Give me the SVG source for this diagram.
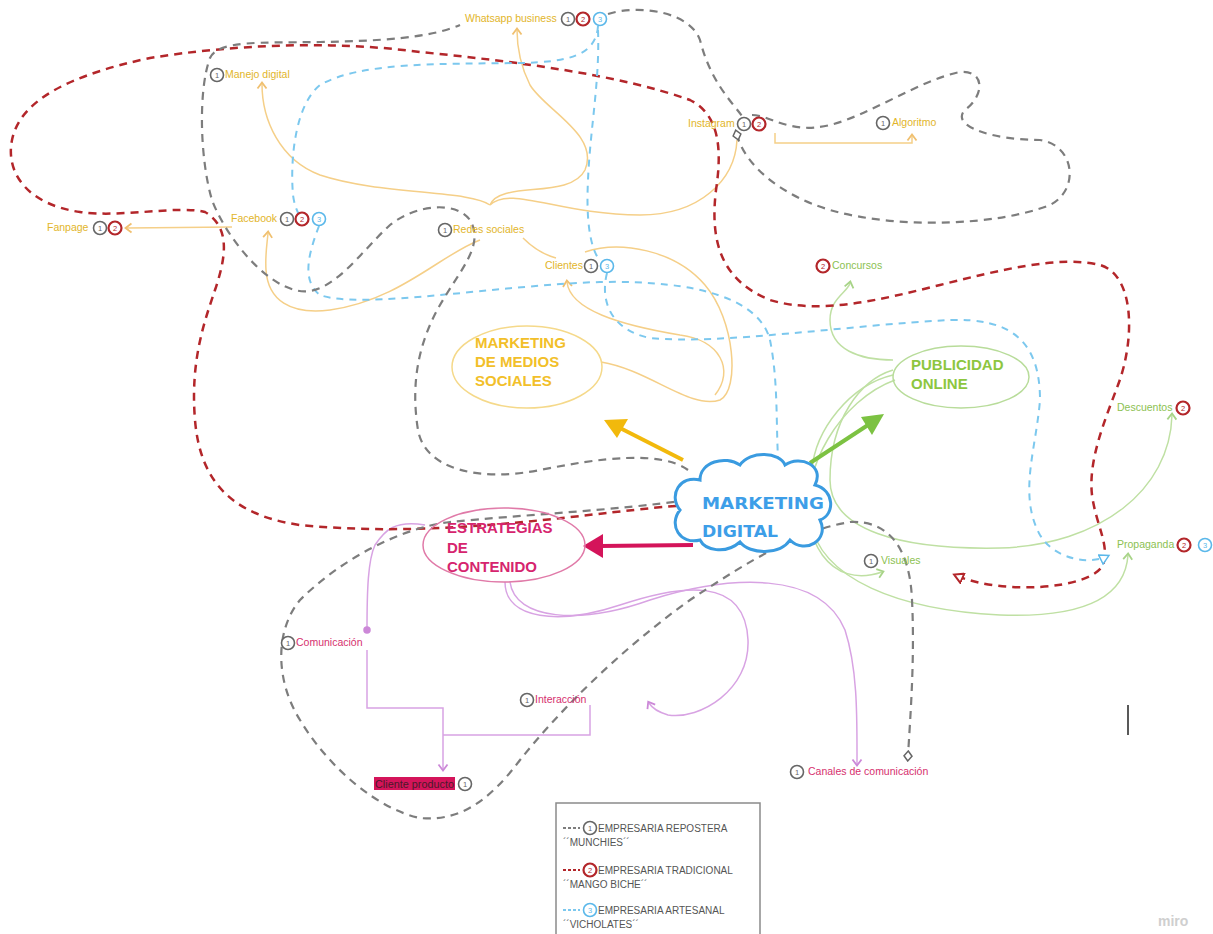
<svg xmlns="http://www.w3.org/2000/svg" width="1213" height="934" viewBox="0 0 1213 934">
<style>
.lbl{font-family:"Liberation Sans",Arial,sans-serif;font-size:10.5px}
.yt{fill:#e2b52a}.gt{fill:#8cc152}.mt{fill:#d6306e}
.y{fill:none;stroke:#f5cf88;stroke-width:1.5}
.g{fill:none;stroke:#bfe0a3;stroke-width:1.5}
.m{fill:none;stroke:#d8a3e3;stroke-width:1.5}
.dk{fill:none;stroke:#7d7d7d;stroke-width:2.2;stroke-dasharray:8 6}
.dr{fill:none;stroke:#b3262a;stroke-width:2.5;stroke-dasharray:8 6}
.db{fill:none;stroke:#7cc8ee;stroke-width:2;stroke-dasharray:7 6}
.b1{fill:#fff;stroke:#666;stroke-width:1.6}
.b2{fill:#fff;stroke:#b3262a;stroke-width:2.2}
.b3{fill:#fff;stroke:#5bb8ea;stroke-width:1.6}
.bn{font-family:"Liberation Sans",Arial,sans-serif;font-size:7.5px;text-anchor:middle}
.big{font-family:"Liberation Sans",Arial,sans-serif;font-weight:bold;font-size:15px}
.leg{font-family:"Liberation Sans",Arial,sans-serif;font-size:10px;fill:#555}
</style>
<defs>
<marker id="ay" markerWidth="8" markerHeight="8" refX="4" refY="4" orient="auto"><path d="M1,1 L5,4 L1,7" fill="none" stroke="#f0c070" stroke-width="1.2"/></marker>
<marker id="ag" markerWidth="8" markerHeight="8" refX="4" refY="4" orient="auto"><path d="M1,1 L5,4 L1,7" fill="none" stroke="#a8d488" stroke-width="1.2"/></marker>
<marker id="am" markerWidth="8" markerHeight="8" refX="4" refY="4" orient="auto"><path d="M1,1 L5,4 L1,7" fill="none" stroke="#cc88d8" stroke-width="1.2"/></marker>
<marker id="dm" markerWidth="8" markerHeight="8" refX="4" refY="4" orient="auto"><circle cx="4" cy="4" r="2.5" fill="#cc88d8"/></marker>
<marker id="ar" markerWidth="12" markerHeight="12" refX="9" refY="6" orient="auto" markerUnits="userSpaceOnUse"><path d="M1,1 L10,6 L1,11 Z" fill="#fff" stroke="#b3262a" stroke-width="2"/></marker>
<marker id="ab" markerWidth="12" markerHeight="12" refX="9" refY="6" orient="auto" markerUnits="userSpaceOnUse"><path d="M1,1 L10,6 L1,11 Z" fill="#fff" stroke="#5bb8ea" stroke-width="1.5"/></marker>
<marker id="dk" markerWidth="12" markerHeight="12" refX="6" refY="6" orient="auto" markerUnits="userSpaceOnUse"><path d="M1,6 L6,2 L11,6 L6,10 Z" fill="#fff" stroke="#666" stroke-width="1.5"/></marker>
</defs>
<rect width="1213" height="934" fill="#fff"/>

<g id="connectors">
<!-- yellow -->
<path class="y" d="M490,205 C500,180 570,200 585,170 C600,135 545,110 530,85 C520,65 517,45 517,30" marker-end="url(#ay)"/>
<path class="y" d="M490,205 C470,190 380,195 320,175 C280,160 262,120 262,84" marker-end="url(#ay)"/>
<path class="y" d="M490,205 C510,185 560,215 640,215 C700,215 735,180 737,140"/>
<path class="y" d="M480,240 C440,255 400,300 330,310 C290,315 268,300 266,270 C265,255 267,245 268,233" marker-end="url(#ay)"/>
<path class="y" d="M232,227 L127,228" marker-end="url(#ay)"/>
<path class="y" d="M775,133 L775,143 L912,143 L912,136" marker-end="url(#ay)"/>
<path class="y" d="M523,238 C535,250 545,255 556,258"/>
<path class="y" d="M715,395 C735,370 720,340 680,335 C620,325 570,310 567,282" marker-end="url(#ay)"/>
<path class="y" d="M601,362 C650,370 690,410 720,400 C740,390 735,320 705,285 C675,250 620,240 585,252"/>
<!-- green -->
<path class="g" d="M893,360 C860,360 830,350 830,320 C830,298 848,292 850,283" marker-end="url(#ag)"/>
<path class="g" d="M893,370 C860,380 830,420 830,480 C830,530 900,550 1000,548 C1100,545 1170,490 1172,415" marker-end="url(#ag)"/>
<path class="g" d="M895,380 C840,400 800,470 810,520 C820,580 900,610 1000,615 C1080,618 1125,600 1128,555" marker-end="url(#ag)"/>
<path class="g" d="M808,480 C800,540 830,590 882,572" marker-end="url(#ag)"/>
<path class="g" d="M893,375 C850,385 815,430 812,470"/>
<!-- magenta -->
<path class="m" d="M505,582 C505,620 560,625 620,605 C680,585 745,575 748,640 C750,690 700,720 668,715 C658,712 652,708 649,703" marker-end="url(#am)"/>
<path class="m" d="M510,582 C515,620 580,625 650,600 C730,575 820,570 845,630 C858,670 857,720 857,764" marker-end="url(#am)"/>
<path class="m" d="M425,525 C395,520 385,530 375,545 C368,560 367,590 367,630" marker-end="url(#dm)"/>
<path class="m" d="M367,650 L367,708 L443,708 L443,769" marker-end="url(#am)"/>
<path class="m" d="M590,705 L590,735 L443,735"/>
<!-- red dashed -->
<path class="dr" d="M690,505 C600,510 450,540 300,525 C230,515 200,480 195,420 C190,360 205,320 215,290 C225,260 232,228 205,212 C180,205 120,218 80,212 C30,205 5,175 12,140 C20,100 70,75 150,58 C230,45 330,40 420,52 C520,62 620,75 690,100 C720,115 722,150 716,190 C710,240 720,280 770,300 C820,315 880,300 940,285 C1000,270 1060,255 1100,265 C1135,275 1135,340 1118,385 C1105,420 1088,460 1092,495 C1096,525 1110,545 1103,565 C1090,590 1000,595 955,575" marker-end="url(#ar)"/>
<!-- blue dashed -->
<path class="db" d="M598,26 C596,55 570,62 520,63 C440,64 360,62 320,85 C295,105 290,160 293,195 C295,210 300,218 306,222"/>
<path class="db" d="M598,30 C600,80 590,130 588,180 C586,220 590,245 598,258"/>
<path class="db" d="M319,226 C310,250 300,280 320,295 C360,310 500,285 600,282 C700,280 760,300 770,340 C778,380 776,420 778,458"/>
<path class="db" d="M607,273 C600,300 610,330 650,338 C720,345 850,325 950,320 C1010,318 1040,340 1040,400 C1036,450 1018,495 1040,535 C1055,560 1090,565 1108,556" marker-end="url(#ab)"/>
<!-- grey dashed -->
<path class="dk" d="M688,470 C660,450 600,458 540,470 C480,482 425,470 418,430 C410,380 420,340 440,305 C460,270 485,245 470,220 C455,200 415,205 390,225 C360,252 330,300 295,290 C262,282 225,235 212,200 C200,160 198,90 210,58 C218,40 260,43 320,42 C380,41 430,38 460,25"/>
<path class="dk" d="M608,14 C640,4 690,12 700,40 C710,80 730,100 742,116"/>
<path class="dk" d="M752,115 C770,115 790,135 830,125 C870,115 920,80 960,72 C985,70 985,95 965,110 C950,125 990,140 1040,140 C1075,145 1080,190 1050,205 C1000,225 900,230 830,210 C780,195 745,165 737,135" marker-end="url(#dk)"/>
<path class="dk" d="M688,500 C620,510 520,515 450,522 C400,528 340,560 300,600 C275,630 275,680 300,720 C330,770 380,810 420,818 C460,822 490,800 520,760 C560,710 620,650 690,600 C750,560 800,530 850,522 C890,520 910,550 912,600 C915,660 910,720 908,756" marker-end="url(#dk)"/>
<!-- thick arrows -->
<line x1="683" y1="460" x2="620" y2="428" stroke="#f2b90c" stroke-width="4"/>
<polygon points="604,420 628,419 617,438" fill="#f2b90c"/>
<line x1="810" y1="463" x2="868" y2="425" stroke="#7cc242" stroke-width="4"/>
<polygon points="884,414 861,417 872,435" fill="#7cc242"/>
<line x1="693" y1="545" x2="600" y2="546" stroke="#d4145a" stroke-width="4"/>
<polygon points="583,546 603,534 603,558" fill="#d4145a"/>
</g>

<g id="n-mdms">
<ellipse cx="527" cy="367" rx="75" ry="41" fill="none" stroke="#f5d98a" stroke-width="1.5"/>
<text class="big" fill="#f2bf2a" x="475" y="348">MARKETING</text>
<text class="big" fill="#f2bf2a" x="475" y="367">DE MEDIOS</text>
<text class="big" fill="#f2bf2a" x="475" y="386">SOCIALES</text>
</g>
<g id="n-pub">
<ellipse cx="961" cy="377" rx="68" ry="31" fill="none" stroke="#b8dc9a" stroke-width="1.5"/>
<text class="big" fill="#8dc63f" x="911" y="370" font-size="14">PUBLICIDAD</text>
<text class="big" fill="#8dc63f" x="911" y="389" font-size="14">ONLINE</text>
</g>
<g id="n-est">
<ellipse cx="504" cy="545" rx="81" ry="37" fill="none" stroke="#e07aa8" stroke-width="1.5"/>
<text class="big" fill="#d6246e" x="447" y="533">ESTRATEGIAS</text>
<text class="big" fill="#d6246e" x="447" y="553">DE</text>
<text class="big" fill="#d6246e" x="447" y="572">CONTENIDO</text>
</g>
<g id="n-md">
<path d="M700,540 C680,545 668,525 680,510 C668,495 680,475 700,480 C700,462 725,455 740,465 C750,450 780,452 785,465 C800,455 825,465 815,485 C835,490 835,515 820,520 C830,540 805,555 790,540 C780,555 750,555 740,542 C725,555 705,550 700,540 Z" fill="#fff" stroke="#3a9be0" stroke-width="3"/>
<text x="702" y="509" font-family="DejaVu Sans,sans-serif" font-weight="bold" font-size="15" fill="#3d9ee8" textLength="122" lengthAdjust="spacingAndGlyphs">MARKETING</text>
<text x="702" y="537" font-family="DejaVu Sans,sans-serif" font-weight="bold" font-size="15" fill="#3d9ee8" textLength="76" lengthAdjust="spacingAndGlyphs">DIGITAL</text>
</g>

<g id="n-whatsapp">
<text class="lbl yt" x="465" y="22">Whatsapp business</text>
<circle class="b1" cx="568" cy="19" r="6.5"/><text class="bn" x="568" y="21.5" fill="#666">1</text>
<circle class="b2" cx="583" cy="19" r="6.5"/><text class="bn" x="583" y="21.5" fill="#b3262a">2</text>
<circle class="b3" cx="600" cy="19" r="6.5"/><text class="bn" x="600" y="21.5" fill="#5bb8ea">3</text>
</g>
<g id="n-manejo">
<circle class="b1" cx="217" cy="75" r="6.5"/><text class="bn" x="217" y="77.5" fill="#666">1</text>
<text class="lbl yt" x="225" y="78">Manejo digital</text>
</g>
<g id="n-instagram">
<text class="lbl yt" x="688" y="127">Instagram</text>
<circle class="b1" cx="744" cy="124" r="6.5"/><text class="bn" x="744" y="126.5" fill="#666">1</text>
<circle class="b2" cx="759" cy="124" r="6.5"/><text class="bn" x="759" y="126.5" fill="#b3262a">2</text>
</g>
<g id="n-algoritmo">
<circle class="b1" cx="883" cy="123" r="6.5"/><text class="bn" x="883" y="125.5" fill="#666">1</text>
<text class="lbl yt" x="892" y="126">Algoritmo</text>
</g>
<g id="n-fanpage">
<text class="lbl yt" x="47" y="231">Fanpage</text>
<circle class="b1" cx="100" cy="228" r="6.5"/><text class="bn" x="100" y="230.5" fill="#666">1</text>
<circle class="b2" cx="115" cy="228" r="6.5"/><text class="bn" x="115" y="230.5" fill="#b3262a">2</text>
</g>
<g id="n-facebook">
<text class="lbl yt" x="231" y="222">Facebook</text>
<circle class="b1" cx="287" cy="219" r="6.5"/><text class="bn" x="287" y="221.5" fill="#666">1</text>
<circle class="b2" cx="302" cy="219" r="6.5"/><text class="bn" x="302" y="221.5" fill="#b3262a">2</text>
<circle class="b3" cx="319" cy="219" r="6.5"/><text class="bn" x="319" y="221.5" fill="#5bb8ea">3</text>
</g>
<g id="n-redes">
<circle class="b1" cx="445" cy="230" r="6.5"/><text class="bn" x="445" y="232.5" fill="#666">1</text>
<text class="lbl yt" x="453" y="233">Redes sociales</text>
</g>
<g id="n-clientes">
<text class="lbl yt" x="545" y="269">Clientes</text>
<circle class="b1" cx="591" cy="266" r="6.5"/><text class="bn" x="591" y="268.5" fill="#666">1</text>
<circle class="b3" cx="607" cy="266" r="6.5"/><text class="bn" x="607" y="268.5" fill="#5bb8ea">3</text>
</g>
<g id="n-concursos">
<circle class="b2" cx="823" cy="266" r="6.5"/><text class="bn" x="823" y="268.5" fill="#b3262a">2</text>
<text class="lbl gt" x="832" y="269">Concursos</text>
</g>
<g id="n-descuentos">
<text class="lbl gt" x="1117" y="411">Descuentos</text>
<circle class="b2" cx="1183" cy="408" r="6.5"/><text class="bn" x="1183" y="410.5" fill="#b3262a">2</text>
</g>
<g id="n-propaganda">
<text class="lbl gt" x="1117" y="548">Propaganda</text>
<circle class="b2" cx="1184" cy="545" r="6.5"/><text class="bn" x="1184" y="547.5" fill="#b3262a">2</text>
<circle class="b3" cx="1205" cy="545" r="6.5"/><text class="bn" x="1205" y="547.5" fill="#5bb8ea">3</text>
</g>
<g id="n-visuales">
<circle class="b1" cx="871" cy="561" r="6.5"/><text class="bn" x="871" y="563.5" fill="#666">1</text>
<text class="lbl gt" x="881" y="564">Visuales</text>
</g>
<g id="n-comunicacion">
<circle class="b1" cx="288" cy="643" r="6.5"/><text class="bn" x="288" y="645.5" fill="#666">1</text>
<text class="lbl mt" x="296" y="646">Comunicación</text>
</g>
<g id="n-interaccion">
<circle class="b1" cx="527" cy="700" r="6.5"/><text class="bn" x="527" y="702.5" fill="#666">1</text>
<text class="lbl mt" x="535" y="703">Interacción</text>
</g>
<g id="n-cliente-producto">
<rect x="374" y="777" width="81" height="13" fill="#d4145a"/>
<text class="lbl" x="375" y="788" fill="#4a1a2a" textLength="79" lengthAdjust="spacingAndGlyphs">Cliente producto</text>
<circle class="b1" cx="465" cy="784" r="6.5"/><text class="bn" x="465" y="786.5" fill="#666">1</text>
</g>
<g id="n-canales">
<circle class="b1" cx="797" cy="772" r="6.5"/><text class="bn" x="797" y="774.5" fill="#666">1</text>
<text class="lbl mt" x="808" y="775">Canales de comunicación</text>
</g>

<g id="legend">
<rect x="556" y="803" width="204" height="140" fill="#fff" stroke="#8a8a8a" stroke-width="1.5"/>
<line x1="563" y1="828" x2="580" y2="828" stroke="#7d7d7d" stroke-width="2" stroke-dasharray="3 2"/>
<circle class="b1" cx="590" cy="828" r="6.5"/><text class="bn" x="590" y="830.5" fill="#666">1</text>
<text class="leg" x="598" y="832">EMPRESARIA REPOSTERA</text>
<text class="leg" x="563" y="846">´´MUNCHIES´´</text>
<line x1="563" y1="870" x2="580" y2="870" stroke="#b3262a" stroke-width="2" stroke-dasharray="3 2"/>
<circle class="b2" cx="590" cy="870" r="6.5"/><text class="bn" x="590" y="872.5" fill="#b3262a">2</text>
<text class="leg" x="598" y="874">EMPRESARIA TRADICIONAL</text>
<text class="leg" x="563" y="888">´´MANGO BICHE´´</text>
<line x1="563" y1="910" x2="580" y2="910" stroke="#7cc8ee" stroke-width="2" stroke-dasharray="3 2"/>
<circle class="b3" cx="590" cy="910" r="6.5"/><text class="bn" x="590" y="912.5" fill="#5bb8ea">3</text>
<text class="leg" x="598" y="914">EMPRESARIA ARTESANAL</text>
<text class="leg" x="563" y="928">´´VICHOLATES´´</text>
</g>
<line x1="1128" y1="705" x2="1128" y2="735" stroke="#222" stroke-width="1.5"/>
<text x="1158" y="926" font-family="Liberation Sans,Arial,sans-serif" font-size="14" font-weight="bold" fill="#cfcfcf">miro</text>
</svg>
